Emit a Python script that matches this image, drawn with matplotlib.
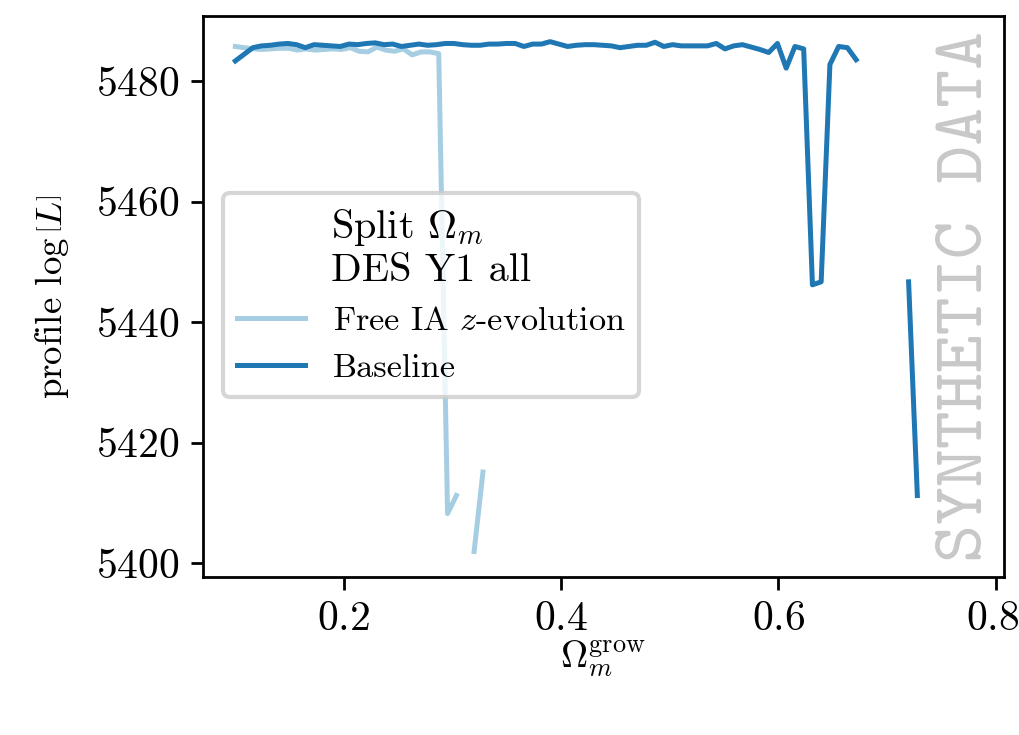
import numpy as np
import matplotlib
matplotlib.use("Agg")
from matplotlib import pyplot as plt
from matplotlib.transforms import ScaledTranslation

plt.rcParams["font.family"] = "serif"
plt.rcParams["font.serif"] = ["cmr10"]
plt.rcParams["mathtext.fontset"] = "cm"
plt.rcParams["axes.formatter.use_mathtext"] = True
plt.rcParams["axes.unicode_minus"] = False
plt.rcParams["axes.linewidth"] = 1.0

# profile likelihood, Free IA z-evolution (light)
x_free = np.linspace(0.1, 0.328, 29)
logl_free = [5485.8, 5485.6, 5485.4, 5485.3, 5485.4, 5485.5, 5485.5, 5485.2,
             5485.4, 5485.2, 5485.3, 5485.4, 5485.3, 5485.6, 5485.0, 5484.9,
             5485.7, 5485.2, 5485.0, 5485.4, 5484.4, 5484.9, 5484.9, 5484.6,
             5408.2, 5411.2, np.nan, 5401.9, 5415.1]

# profile likelihood, Baseline (dark)
x_base = np.linspace(0.1, 0.728, 79)
logl_base = [5483.4, 5484.5, 5485.6, 5485.9, 5486.0, 5486.2, 5486.3, 5486.1,
             5485.6, 5486.1, 5486.0, 5485.9, 5485.8, 5486.2, 5486.1, 5486.3,
             5486.4, 5486.1, 5486.2, 5485.8, 5486.0, 5486.2, 5486.0, 5486.1,
             5486.3, 5486.3, 5486.1, 5486.0, 5486.0, 5486.2, 5486.2, 5486.3,
             5486.3, 5485.8, 5486.2, 5486.2, 5486.6, 5486.2, 5485.8, 5486.0,
             5486.1, 5486.1, 5486.0, 5485.9, 5485.6, 5485.8, 5486.0, 5486.0,
             5486.5, 5485.8, 5486.1, 5485.9, 5485.9, 5485.9, 5485.9, 5486.3,
             5485.4, 5485.9, 5486.1, 5485.7, 5485.3, 5484.8, 5486.3, 5482.2,
             5485.8, 5485.4, 5446.2, 5446.7, 5482.8, 5485.8, 5485.6, 5483.6,
             np.nan, np.nan, np.nan, np.nan, np.nan, 5446.7, 5411.2]

labels = [r"Free IA $z$-evolution", "Baseline"]
colors = ["#a6cee3", "#1f78b4"]

fig = plt.figure(figsize=(5.1, 3.675), dpi=200)
ax = fig.add_axes([0.199, 0.215, 0.785, 0.763])

ax.plot(x_free, logl_free, color=colors[0], lw=1.8, label=labels[0])
ax.plot(x_base, logl_base, color=colors[1], lw=1.8, label=labels[1])

ax.set_xlim(0.0702, 0.8075)
ax.set_xticks([0.2, 0.4, 0.6, 0.8])
ax.set_yticks([5400, 5420, 5440, 5460, 5480])
ax.tick_params(labelsize=15, length=4.5, width=1.0, pad=4)
ax.set_xlabel(r"$\Omega_m^{\rm grow}$", fontsize=13.5, labelpad=0)
ax.set_ylabel(r"profile $\log\left[L\right]$", fontsize=13.3, labelpad=9)

# keep the last x tick label inside the canvas
fig.canvas.draw()
last = ax.get_xticklabels()[-1]
last.set_transform(last.get_transform() + ScaledTranslation(-3 / 200, 0, fig.dpi_scale_trans))

leg = ax.legend(title="Split $\\Omega_m$\nDES Y1 all", loc="center left",
                bbox_to_anchor=(0.0, 0.503), fontsize=12.3, title_fontsize=14.5,
                frameon=True, framealpha=0.8, borderaxespad=0.6)
leg.get_frame().set_edgecolor("#cccccc")
leg.get_frame().set_linewidth(1.5)

ax.text(0.955, 0.5, "SYNTHETIC DATA", transform=ax.transAxes, rotation=90,
        ha="center", va="center", fontsize=26, color="#c8c8c8",
        family="cmtt10")

fig.savefig("out.png", dpi=200)
